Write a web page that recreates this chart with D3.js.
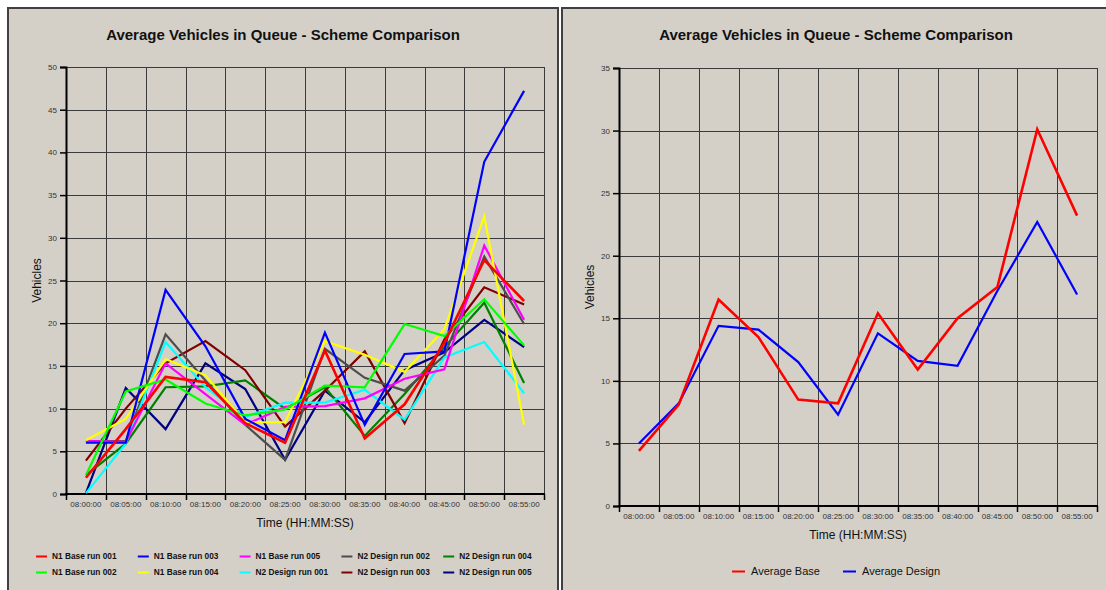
<!DOCTYPE html>
<html><head><meta charset="utf-8">
<script src="https://cdn.jsdelivr.net/npm/d3@7"></script>
<style>
html,body{margin:0;padding:0;background:#fff;}
svg{display:block;}
text{font-family:"Liberation Sans",Arial,sans-serif;}
</style></head>
<body>
<svg id="c" width="1106" height="590"></svg>
<script>
// ---------- DATA ----------
const times = ["08:00:00","08:05:00","08:10:00","08:15:00","08:20:00","08:25:00","08:30:00","08:35:00","08:40:00","08:45:00","08:50:00","08:55:00"];
const chartTitle = "Average Vehicles in Queue - Scheme Comparison";
const xTitle = "Time (HH:MM:SS)";
const yTitle = "Vehicles";

const leftTicks = [0,5,10,15,20,25,30,35,40,45,50];
const rightTicks = [0,5,10,15,20,25,30,35];

const n1Base001 = [1.9, 7.6, 13.7, 13.1, 8.3, 6.0, 16.8, 6.5, 10.5, 17.7, 27.4, 22.6];
const n1Base002 = [2.2, 12.0, 13.4, 10.6, 9.2, 9.9, 12.7, 12.5, 19.9, 18.5, 22.8, 17.4];
const n1Base003 = [6.0, 6.0, 23.9, 17.3, 8.8, 6.3, 18.9, 8.1, 16.4, 16.7, 38.9, 47.2];
const n1Base004 = [6.3, 8.8, 15.8, 13.9, 8.4, 8.4, 17.9, 16.3, 14.3, 19.3, 32.5, 8.1];
const n1Base005 = [6.2, 6.1, 15.3, 11.7, 8.1, 10.2, 10.3, 11.2, 13.5, 14.6, 29.1, 20.4];
const n2Design001 = [0.1, 5.9, 17.8, 12.5, 9.0, 10.7, 10.7, 12.2, 8.7, 16.0, 17.8, 11.8];
const n2Design002 = [6.2, 6.2, 18.7, 13.3, 8.1, 4.0, 17.0, 13.6, 12.1, 16.2, 27.8, 19.9];
const n2Design003 = [3.9, 10.0, 15.3, 17.9, 14.5, 7.9, 12.1, 16.7, 8.3, 18.1, 24.2, 22.2];
const n2Design004 = [2.2, 5.9, 12.5, 12.6, 13.3, 10.0, 12.5, 6.8, 11.7, 17.2, 22.4, 13.0];
const n2Design005 = [0.1, 12.4, 7.6, 15.3, 12.3, 4.0, 12.1, 8.4, 14.5, 16.6, 20.4, 17.2];

const averageBase = [4.4, 8.1, 16.5, 13.5, 8.5, 8.2, 15.4, 10.9, 15.0, 17.5, 30.1, 23.2];
const averageDesign = [5.0, 8.2, 14.4, 14.1, 11.5, 7.3, 13.8, 11.6, 11.2, 17.2, 22.7, 16.9];

const leftNames = ["N1 Base run 001","N1 Base run 002","N1 Base run 003","N1 Base run 004","N1 Base run 005",
  "N2 Design run 001","N2 Design run 002","N2 Design run 003","N2 Design run 004","N2 Design run 005"];
const leftValues = [n1Base001,n1Base002,n1Base003,n1Base004,n1Base005,n2Design001,n2Design002,n2Design003,n2Design004,n2Design005];
const leftColors = ["#ff0000","#00ff00","#0000ff","#ffff00","#ff00ff","#00ffff","#4d4d4d","#800000","#008000","#000080"];

const rightNames = ["Average Base","Average Design"];
const rightValues = [averageBase, averageDesign];
const rightColors = ["#ff0000","#0000ff"];

// ---------- DRAW ----------
const svg = d3.select("#c");
const PANEL_BG = "#d4d0c8";
const GRID = "#3a3a3a";

function panel(x, w) {
  svg.append("rect").attr("x", x).attr("y", 8).attr("width", w).attr("height", 620)
    .attr("fill", PANEL_BG).attr("stroke", "#404040").attr("stroke-width", 2);
}
panel(8, 550);
panel(562, 560);

function chart(cfg) {
  const g = svg.append("g");
  const x = d3.scaleBand().domain(times).range([cfg.x0, cfg.x1]);
  const y = d3.scaleLinear().domain([0, cfg.ymax]).range([cfg.y1, cfg.y0]);

  // title
  g.append("text").attr("x", cfg.cx).attr("y", 34).attr("text-anchor", "middle")
    .attr("dominant-baseline", "central").attr("font-size", "15px").attr("font-weight", "bold")
    .attr("fill", "#111").text(chartTitle);

  // grid horizontal
  g.append("g").selectAll("line").data(cfg.ticks).join("line")
    .attr("x1", cfg.x0).attr("x2", cfg.x1)
    .attr("y1", d => Math.round(y(d)) + 0.5).attr("y2", d => Math.round(y(d)) + 0.5)
    .attr("stroke", GRID).attr("stroke-width", 1);
  // grid vertical (band boundaries)
  const bounds = times.map(t => x(t)).concat([cfg.x1]);
  g.append("g").selectAll("line").data(bounds).join("line")
    .attr("x1", d => Math.round(d) + 0.5).attr("x2", d => Math.round(d) + 0.5)
    .attr("y1", cfg.y0).attr("y2", cfg.y1)
    .attr("stroke", GRID).attr("stroke-width", 1);

  // y axis
  const ya = d3.axisLeft(y).tickValues(cfg.ticks).tickSize(6).tickPadding(3);
  const yg = g.append("g").attr("transform", `translate(${cfg.x0},0)`).call(ya);
  yg.select(".domain").attr("stroke", "#000").attr("stroke-width", 2);
  yg.selectAll(".tick line").attr("stroke", "#000").attr("stroke-width", 1.5);
  yg.selectAll(".tick text").attr("font-size", "8px").attr("fill", "#333")
    .attr("font-family", "'Liberation Sans',Arial,sans-serif");

  // x axis
  const xa = d3.axisBottom(x).tickSize(0).tickPadding(10);
  const xg = g.append("g").attr("transform", `translate(0,${cfg.y1})`).call(xa);
  xg.select(".domain").remove();
  xg.append("line").attr("x1", cfg.x0 - 1).attr("x2", cfg.x1 + 1).attr("y1", 0).attr("y2", 0)
    .attr("stroke", "#000").attr("stroke-width", 2);
  xg.selectAll(".bt").data(bounds).join("line").attr("class", "bt")
    .attr("x1", d => Math.round(d) + 0.5).attr("x2", d => Math.round(d) + 0.5)
    .attr("y1", 0).attr("y2", 6).attr("stroke", "#000").attr("stroke-width", 1.5);
  xg.selectAll(".tick text").attr("font-size", "8px").attr("fill", "#333")
    .attr("font-family", "'Liberation Sans',Arial,sans-serif")
    .attr("dy", "0.32em").attr("y", 10);

  // axis titles
  g.append("text").attr("x", (cfg.x0 + cfg.x1) / 2).attr("y", cfg.y1 + 29)
    .attr("text-anchor", "middle").attr("dominant-baseline", "central")
    .attr("font-size", "12px").attr("fill", "#111").text(xTitle);
  g.append("text").attr("transform", `translate(${cfg.x0 - 29},${(cfg.y0 + cfg.y1) / 2}) rotate(-90)`)
    .attr("text-anchor", "middle").attr("dominant-baseline", "central")
    .attr("font-size", "12px").attr("fill", "#111").text(yTitle);

  // lines
  const line = d3.line().x((d, i) => x(times[i]) + x.bandwidth() / 2).y(d => y(d));
  const order = d3.range(cfg.values.length).reverse();
  g.append("g").selectAll("path").data(order).join("path")
    .attr("d", i => line(cfg.values[i]))
    .attr("fill", "none").attr("stroke", i => cfg.colors[i])
    .attr("stroke-width", i => (i === 0 ? 2.6 : 2.2)).attr("stroke-linejoin", "miter");

  // legend
  const lg = g.append("g");
  cfg.legend.forEach((it, k) => {
    const gi = lg.append("g").attr("transform", `translate(${it.x},${it.y})`);
    gi.append("line").attr("x1", 0).attr("x2", cfg.legLine).attr("y1", 0.5).attr("y2", 0.5)
      .attr("stroke", cfg.colors[it.i]).attr("stroke-width", 2);
    gi.append("text").attr("x", cfg.legGap).attr("y", 0).attr("dominant-baseline", "central")
      .attr("font-size", cfg.legFont).attr("font-weight", cfg.legWeight).attr("fill", "#111")
      .text(cfg.names[it.i]);
  });
}

// left legend layout: column-major, 2 rows
const leftLegend = leftNames.map((n, i) => ({ i, x: 36 + Math.floor(i / 2) * 101.8, y: i % 2 === 0 ? 556 : 572 }));
chart({
  x0: 66, x1: 544, y0: 67, y1: 494, ymax: 50, ticks: leftTicks, cx: 283,
  values: leftValues, colors: leftColors, names: leftNames,
  legend: leftLegend, legLine: 11, legGap: 16, legFont: "8.3px", legWeight: "bold"
});

const rightLegend = rightNames.map((n, i) => ({ i, x: 732 + i * 111, y: 571 }));
chart({
  x0: 619, x1: 1097, y0: 68, y1: 506, ymax: 35, ticks: rightTicks, cx: 836,
  values: rightValues, colors: rightColors, names: rightNames,
  legend: rightLegend, legLine: 13, legGap: 19, legFont: "11px", legWeight: "normal"
});
</script>
</body></html>
